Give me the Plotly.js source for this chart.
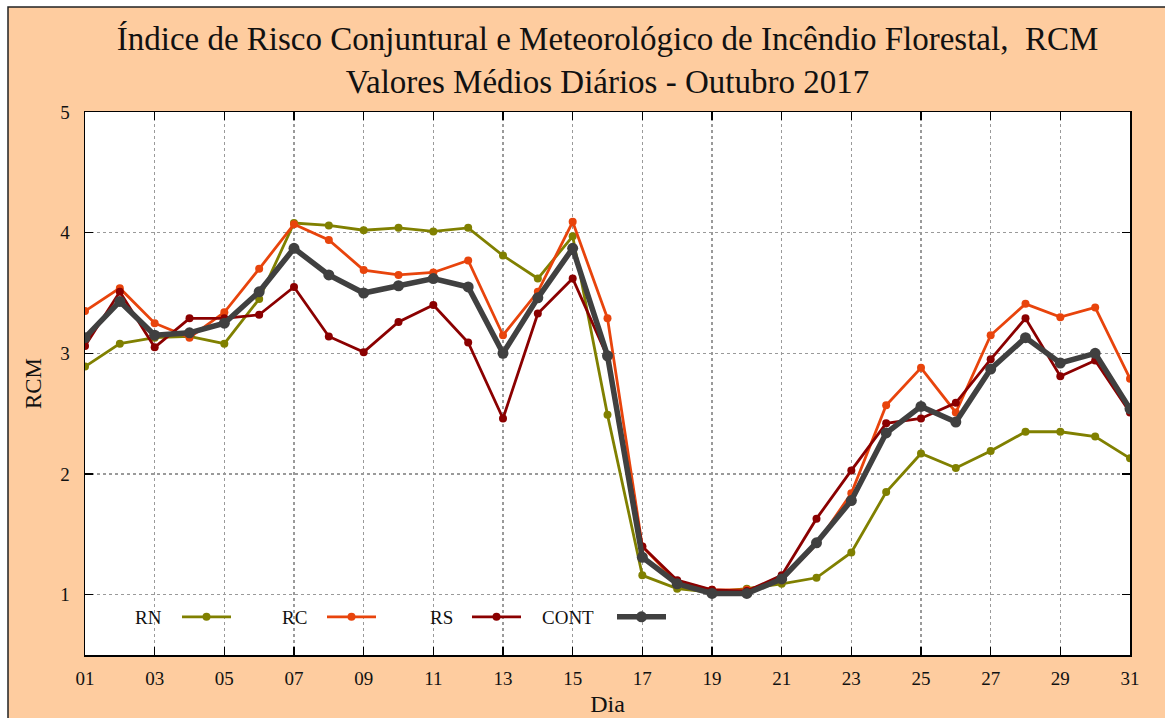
<!DOCTYPE html>
<html>
<head>
<meta charset="utf-8">
<script src="https://cdn.plot.ly/plotly-3.0.1.min.js"></script>
<style>
  html, body { margin: 0; padding: 0; background: #ffffff; }
  #chart { width: 1165px; height: 718px; }
</style>
</head>
<body>
<div id="chart"></div>
<script>
// days of the month
const days = [1, 2, 3, 4, 5, 6, 7, 8, 9, 10, 11, 12, 13, 14, 15, 16,
              17, 18, 19, 20, 21, 22, 23, 24, 25, 26, 27, 28, 29, 30, 31];

// RCM daily mean values
const rn = [2.89, 3.08, 3.13, 3.14, 3.08, 3.45, 4.08, 4.06, 4.02, 4.04, 4.01, 4.04,
            3.81, 3.62, 3.97, 2.49, 1.16, 1.05, 1.02, 1.05, 1.09, 1.14, 1.35, 1.85,
            2.17, 2.05, 2.19, 2.35, 2.35, 2.31, 2.13];
const rc = [3.35, 3.54, 3.25, 3.13, 3.34, 3.70, 4.07, 3.94, 3.69, 3.65, 3.67, 3.77,
            3.15, 3.51, 4.09, 3.29, 1.40, 1.10, 1.04, 1.04, 1.12, 1.42, 1.84, 2.57,
            2.88, 2.51, 3.15, 3.41, 3.30, 3.38, 2.79];
const rs = [3.06, 3.51, 3.05, 3.29, 3.29, 3.32, 3.55, 3.14, 3.01, 3.26, 3.40, 3.09,
            2.46, 3.33, 3.62, 2.97, 1.40, 1.12, 1.04, 1.03, 1.16, 1.63, 2.03, 2.42,
            2.46, 2.59, 2.95, 3.29, 2.81, 2.94, 2.51];
const cont = [3.13, 3.43, 3.15, 3.17, 3.25, 3.51, 3.87, 3.65, 3.50, 3.56, 3.62, 3.55,
              3.00, 3.46, 3.87, 2.98, 1.31, 1.09, 1.01, 1.01, 1.13, 1.43, 1.78, 2.34,
              2.56, 2.43, 2.87, 3.13, 2.92, 3.00, 2.54];

// axis ticks
const xTickVals = [1, 3, 5, 7, 9, 11, 13, 15, 17, 19, 21, 23, 25, 27, 29, 31];
const xTickText = ['01', '03', '05', '07', '09', '11', '13', '15', '17', '19',
                   '21', '23', '25', '27', '29', '31'];
const yTickVals = [1, 2, 3, 4, 5];

const seriesNames = ['RN', 'RC', 'RS', 'CONT'];
const seriesColors = ['#808000', '#e8440c', '#8b0000', '#404040'];

// plot area in pixels
const W = 1165, H = 718;
const M = { l: 85, r: 35, t: 112, b: 63 };
const pw = W - M.l - M.r, ph = H - M.t - M.b;
const px = v => (v - M.l) / pw;          // pixel x -> paper
const py = v => (H - M.b - v) / ph;      // pixel y -> paper

const serif = "'Liberation Serif', 'Times New Roman', Times, serif";
const peach = '#fecc9f';

function makeTrace(y, i, width, msize) {
  return {
    x: days,
    y: y,
    type: 'scatter',
    mode: 'lines+markers',
    name: '',
    hovertext: seriesNames[i],
    line: { color: seriesColors[i], width: width },
    marker: { color: seriesColors[i], size: msize, symbol: 'circle' },
  };
}

const data = [
  makeTrace(rn, 0, 2.8, 8),
  makeTrace(rc, 1, 2.8, 8),
  makeTrace(rs, 2, 2.8, 8),
  makeTrace(cont, 3, 5.5, 11),
];

// legend labels sit to the left of the samples (gnuplot style)
const legendLabelX = [164, 309, 455, 596];
const legendAnn = seriesNames.map((n, i) => ({
  text: n, xref: 'paper', yref: 'paper',
  x: px(legendLabelX[i]), y: py(617), xanchor: 'right', yanchor: 'middle',
  showarrow: false, font: { family: serif, size: 19, color: '#111' },
}));

const layout = {
  width: W,
  height: H,
  margin: M,
  paper_bgcolor: peach,
  plot_bgcolor: '#ffffff',
  font: { family: serif, size: 19, color: '#111' },
  title: {
    text: 'Índice de Risco Conjuntural e Meteorológico de Incêndio Florestal,&nbsp; RCM<br>Valores Médios Diários - Outubro 2017',
    font: { family: serif, size: 33, color: '#111' },
    x: 0.5, xref: 'paper',
    y: 0.93, yref: 'container', yanchor: 'top',
  },
  xaxis: {
    range: [1, 31],
    tickvals: xTickVals,
    ticktext: xTickText,
    ticks: 'inside', ticklen: 8, tickcolor: '#000', tickwidth: 1.5,
    ticklabelstandoff: 6,
    showline: true, linecolor: '#000', linewidth: 1.5, mirror: 'ticks',
    showgrid: true, gridcolor: '#9a9a9a', griddash: 'dot', gridwidth: 1.2,
    zeroline: false,
    title: { text: 'Dia', font: { family: serif, size: 24 }, standoff: 7 },
  },
  yaxis: {
    range: [0.5, 5],
    tickvals: yTickVals,
    ticks: 'inside', ticklen: 8, tickcolor: '#000', tickwidth: 1.5,
    ticklabelstandoff: 10,
    showline: true, linecolor: '#000', linewidth: 1.5, mirror: 'ticks',
    showgrid: true, gridcolor: '#9a9a9a', griddash: 'dot', gridwidth: 1.2,
    zeroline: false,
    title: { text: 'RCM', font: { family: serif, size: 23 }, standoff: 12 },
  },
  showlegend: true,
  legend: {
    orientation: 'h',
    x: px(177), y: py(617), xanchor: 'left', yanchor: 'middle',
    bgcolor: 'rgba(0,0,0,0)',
    itemwidth: 49,
    entrywidth: 81, entrywidthmode: 'pixels',
    font: { family: serif, size: 19 },
  },
  annotations: legendAnn,
  shapes: [
    // white strips outside the peach frame
    { type: 'rect', xref: 'paper', yref: 'paper', x0: px(-5), x1: px(W + 5), y0: py(7), y1: py(-5),
      fillcolor: '#ffffff', line: { width: 0 } },
    { type: 'rect', xref: 'paper', yref: 'paper', x0: px(-5), x1: px(8), y0: py(H + 5), y1: py(-5),
      fillcolor: '#ffffff', line: { width: 0 } },
    // frame border
    { type: 'rect', xref: 'paper', yref: 'paper', x0: px(8), x1: px(W + 20), y0: py(H + 20), y1: py(7),
      fillcolor: 'rgba(0,0,0,0)', line: { color: '#222', width: 1.5 } },
  ],
};

Plotly.newPlot('chart', data, layout, { staticPlot: true });
</script>
</body>
</html>
